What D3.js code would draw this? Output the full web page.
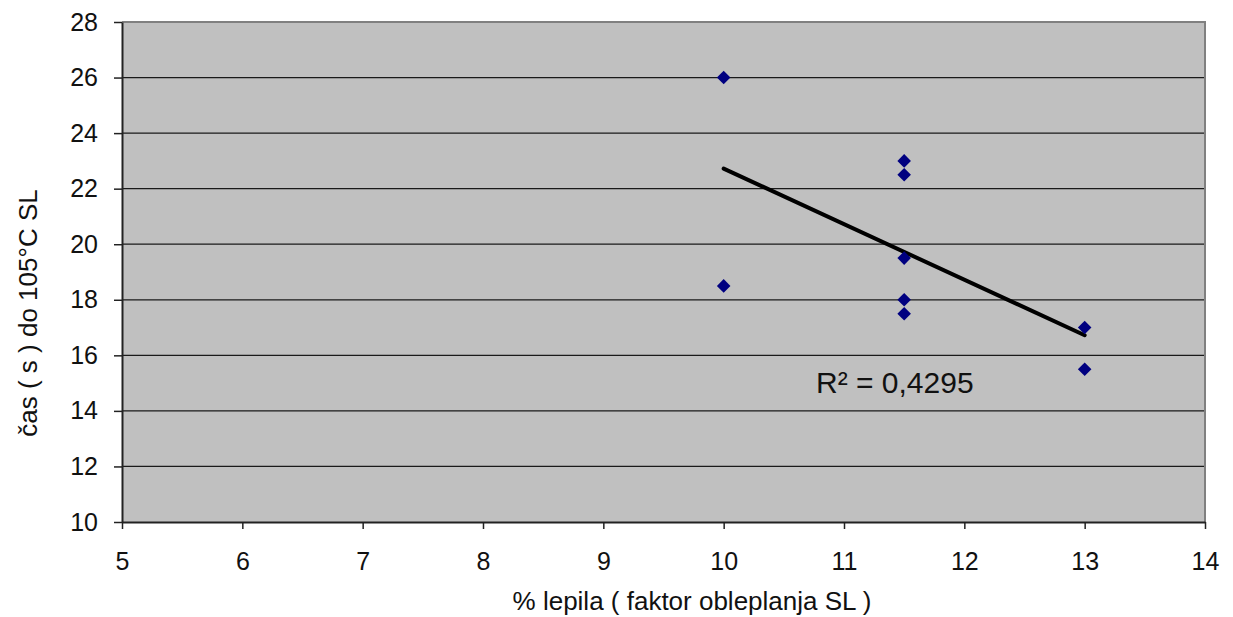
<!DOCTYPE html>
<html>
<head>
<meta charset="utf-8">
<script src="https://cdn.jsdelivr.net/npm/d3@7"></script>
<style>
  html, body { margin: 0; padding: 0; background: #ffffff; }
  svg { display: block; font-family: "Liberation Sans", Arial, sans-serif; }
</style>
</head>
<body>
<svg id="chart" width="1233" height="617"></svg>
<script>
// Measurements: glue percentage vs. time to reach 105 °C
const glueShare = [10, 10, 11.5, 11.5, 11.5, 11.5, 11.5, 13, 13];
const heatTime  = [26, 18.5, 23, 22.5, 19.5, 18, 17.5, 17, 15.5];
const xTicks = [5, 6, 7, 8, 9, 10, 11, 12, 13, 14];
const yTicks = [10, 12, 14, 16, 18, 20, 22, 24, 26, 28];
const xTitle = "% lepila ( faktor obleplanja SL )";
const yTitle = "čas ( s ) do 105°C SL";
const rSquaredText = "R² = 0,4295";

const svg = d3.select("#chart");
const plot = { left: 122, top: 22, right: 1205, bottom: 522 };

const x = d3.scaleLinear().domain([5, 14]).range([plot.left, plot.right]);
const y = d3.scaleLinear().domain([10, 28]).range([plot.bottom, plot.top]);

// plot background
svg.append("rect")
  .attr("x", plot.left).attr("y", plot.top)
  .attr("width", plot.right - plot.left).attr("height", plot.bottom - plot.top)
  .attr("fill", "#c0c0c0");

// horizontal gridlines
svg.append("g").selectAll("line")
  .data(yTicks.filter(d => d > 10 && d < 28))
  .join("line")
  .attr("x1", plot.left).attr("x2", plot.right)
  .attr("y1", d => y(d)).attr("y2", d => y(d))
  .attr("stroke", "#1a1a1a").attr("stroke-width", 1.3);

// top and right frame
svg.append("path")
  .attr("d", `M${plot.left},${plot.top}H${plot.right}V${plot.bottom}`)
  .attr("fill", "none").attr("stroke", "#808080").attr("stroke-width", 2);

// axes
const xAxis = svg.append("g")
  .attr("transform", `translate(0,${plot.bottom})`)
  .call(d3.axisBottom(x).tickValues(xTicks).tickFormat(d3.format("d"))
    .tickSize(7).tickPadding(23).tickSizeOuter(0));
const yAxis = svg.append("g")
  .attr("transform", `translate(${plot.left},0)`)
  .call(d3.axisLeft(y).tickValues(yTicks).tickFormat(d3.format("d"))
    .tickSize(8).tickPadding(16).tickSizeOuter(0));

[xAxis, yAxis].forEach(g => {
  g.select(".domain").attr("stroke", "#222").attr("stroke-width", 2);
  g.selectAll(".tick line").attr("stroke", "#222").attr("stroke-width", 1.5);
  g.selectAll(".tick text").attr("fill", "#111").style("font-size", "25px")
    .style("font-family", "\"Liberation Sans\", Arial, sans-serif");
});

// linear trend line (least squares) over the data range
const n = glueShare.length;
const mx = d3.mean(glueShare), my = d3.mean(heatTime);
let sxy = 0, sxx = 0;
for (let i = 0; i < n; i++) {
  sxy += (glueShare[i] - mx) * (heatTime[i] - my);
  sxx += (glueShare[i] - mx) ** 2;
}
const slope = sxy / sxx, intercept = my - slope * mx;
const [xMin, xMax] = d3.extent(glueShare);
svg.append("line")
  .attr("x1", x(xMin)).attr("y1", y(intercept + slope * xMin))
  .attr("x2", x(xMax)).attr("y2", y(intercept + slope * xMax))
  .attr("stroke", "#000").attr("stroke-width", 4).attr("stroke-linecap", "round");

// diamond markers
const diamond = d3.symbol().type(d3.symbolSquare).size(92);
svg.append("g").selectAll("path")
  .data(glueShare.map((v, i) => [v, heatTime[i]]))
  .join("path")
  .attr("d", diamond)
  .attr("transform", d => `translate(${x(d[0])},${y(d[1])}) rotate(45)`)
  .attr("fill", "#000080");

// R² annotation
svg.append("text")
  .attr("x", 816).attr("y", 393)
  .attr("fill", "#111")
  .style("font-size", "30px")
  .text(rSquaredText);

// axis titles
svg.append("text")
  .attr("x", 692).attr("y", 610)
  .attr("text-anchor", "middle")
  .attr("fill", "#111")
  .style("font-size", "26px")
  .text(xTitle);

svg.append("text")
  .attr("transform", "translate(37,313) rotate(-90)")
  .attr("text-anchor", "middle")
  .attr("fill", "#111")
  .style("font-size", "26px")
  .text(yTitle);
</script>
</body>
</html>
